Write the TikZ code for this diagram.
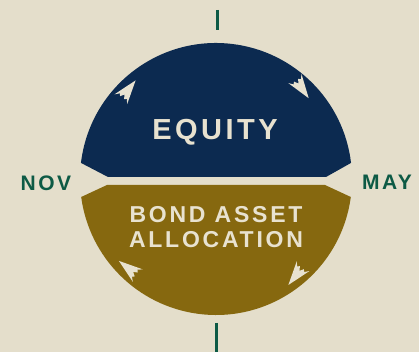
\documentclass[tikz,border=0pt]{standalone}
\usepackage{fontspec}
\setmainfont{Liberation Sans}
\newfontfamily\spacedfont[LetterSpace=12]{Liberation Sans}
\definecolor{paper}{HTML}{E4DECB}
\definecolor{cream}{HTML}{E8E2D0}
\definecolor{equityblue}{HTML}{0C2A50}
\definecolor{bondgold}{HTML}{86680F}
\definecolor{monthgreen}{HTML}{0D5A45}
\tikzstyle{month} = [font=\spacedfont\bfseries\fontsize{21}{21}\selectfont, text=monthgreen, inner sep=0pt]
\tikzstyle{half} = [font=\spacedfont\bfseries\fontsize{23}{25}\selectfont, text=cream, align=center, inner sep=0pt]
\tikzstyle{monthtick} = [monthgreen, line width=3pt]
\tikzset{turn/.pic={\fill[cream] (13,0) -- (-11,8) -- (-7,4.5) -- (-9,2.5) -- (-5,0) -- (-9,-2.5) -- (-7,-4.5) -- (-11,-8) -- cycle;}}

\begin{document}
\begin{tikzpicture}[x=1pt,y=1pt]
        \fill[paper] (0,0) rectangle (419,352);
        \useasboundingbox (0,0) rectangle (419,352);
        \coordinate (centre) at (216,173);

        % upper and lower halves, split by a notched band
        \fill[equityblue] (centre) ++(173.2:136) arc[start angle=173.2, end angle=6.8, radius=136]
              -- (326,175) -- (108,175) -- cycle;
        \fill[bondgold] (centre) ++(-7.6:136) arc[start angle=-7.6, end angle=-172.4, radius=136]
              -- (107,167) -- (325,167) -- cycle;

        % clockwise arrowheads
        \foreach \a/\d in {135/52, 47/-55, -134/142, -50/-128}
          \path (centre) ++(\a:125) pic[rotate=\d] {turn};

        \node[half, font=\spacedfont\bfseries\fontsize{29}{29}\selectfont] at (215,220) (equity) {EQUITY};
        \node[half] at (216,125) (bond) {BOND ASSET\\ALLOCATION};
        \node[month] at (46,169) (nov) {NOV};
        \node[month] at (387,170) (may) {MAY};

        \draw[monthtick] (217,342) -- (217,322);
        \draw[monthtick] (216,29) -- (216,0);
\end{tikzpicture}
\end{document}
